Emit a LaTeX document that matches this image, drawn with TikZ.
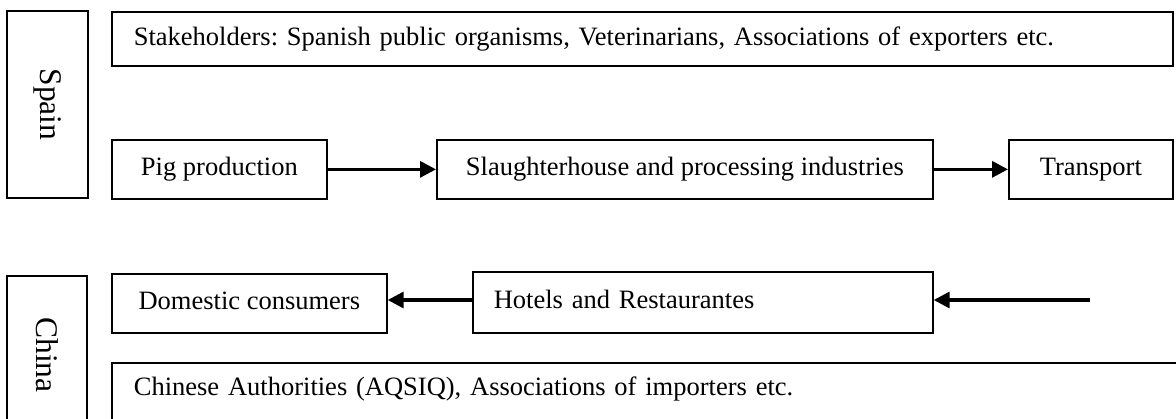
\documentclass[tikz,border=0pt]{standalone}
\usepackage{fontspec}
\setmainfont{Liberation Serif}
\usetikzlibrary{arrows.meta}
\frenchspacing
\begin{document}
\begin{tikzpicture}[x=1pt,y=-1pt,
  box/.style={draw, line width=1.7pt, inner sep=0pt, font=\fontsize{26.5}{30}\selectfont, text height=19pt, text depth=6pt, anchor=north west},
  side/.style={draw, line width=1.7pt, inner sep=0pt, rotate=-90, font=\fontsize{31.5}{36}\selectfont},
  flow/.style={line width=3.3pt, -{Triangle[length=16pt,width=16pt]}}]
\useasboundingbox (0,0) rectangle (1176,418);
\clip (0,0) rectangle (1176,418);
\node[side, minimum width=187pt, minimum height=81pt] (spain) at (47.5,104.5) {Spain};
\node[box, minimum width=1061pt, minimum height=54pt, text width=1017pt, inner xsep=22pt, align=left] (stake) at (111,11) {Stakeholders: Spanish public organisms, Veterinarians, Associations of exporters etc.};
\node[box, minimum width=215pt, minimum height=59pt] (pig) at (111,139) {Pig production};
\node[box, minimum width=496pt, minimum height=59pt] (slaughter) at (436,139) {Slaughterhouse and processing industries};
\node[box, minimum width=164pt, minimum height=59pt] (transport) at (1008,139) {Transport};
\node[side, minimum width=158pt, minimum height=80pt] (china) at (47,355) {China};
\node[box, minimum width=275pt, minimum height=59pt] (domestic) at (111,273) {Domestic consumers};
\node[box, minimum width=460pt, minimum height=61pt, text width=418pt, inner xsep=21pt, align=left] (hotels) at (472,271) {Hotels and Restaurantes};
\node[box, minimum width=1100pt, minimum height=60pt, text width=1056pt, inner xsep=22pt, align=left, text height=33pt, text depth=27pt] (auth) at (111,362) {Chinese Authorities (AQSIQ), Associations of importers etc.};
\coordinate (in) at (1090,300);
\draw[flow] (pig) -- (slaughter);
\draw[flow] (slaughter) -- (transport);
\draw[flow] (in) -- (hotels.east |- in);
\draw[flow] (hotels.west |- in) -- (domestic.east |- in);
\end{tikzpicture}
\end{document}
